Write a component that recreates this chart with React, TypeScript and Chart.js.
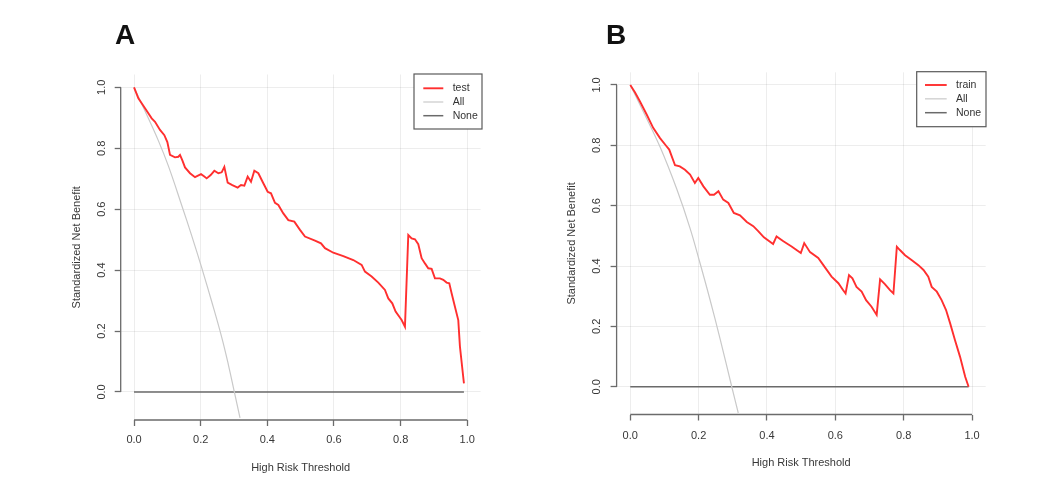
import React, { useEffect, useRef } from "react";
import { Chart, registerables } from "chart.js";

Chart.register(...registerables);

// ---------- data ----------
const tickValues = [0, 0.2, 0.4, 0.6, 0.8, 1.0];

const thresholdsA = [0, 0.013, 0.033, 0.053, 0.063, 0.078, 0.091, 0.1, 0.108, 0.123, 0.133, 0.138, 0.145, 0.153, 0.168, 0.183, 0.201, 0.21, 0.218, 0.23, 0.241, 0.253, 0.263, 0.271, 0.281, 0.295, 0.311, 0.321, 0.331, 0.341, 0.351, 0.361, 0.373, 0.388, 0.401, 0.411, 0.423, 0.433, 0.448, 0.463, 0.481, 0.498, 0.513, 0.543, 0.561, 0.573, 0.598, 0.628, 0.658, 0.683, 0.693, 0.713, 0.733, 0.753, 0.763, 0.775, 0.785, 0.803, 0.813, 0.823, 0.833, 0.843, 0.853, 0.863, 0.873, 0.883, 0.893, 0.903, 0.918, 0.928, 0.938, 0.946, 0.953, 0.963, 0.973, 0.978, 0.99];
const netBenefitTestA = [1.0, 0.964, 0.931, 0.898, 0.887, 0.86, 0.843, 0.82, 0.778, 0.77, 0.772, 0.778, 0.76, 0.737, 0.718, 0.705, 0.715, 0.708, 0.701, 0.712, 0.726, 0.718, 0.721, 0.739, 0.687, 0.679, 0.671, 0.679, 0.677, 0.707, 0.69, 0.726, 0.718, 0.685, 0.657, 0.652, 0.621, 0.614, 0.586, 0.564, 0.559, 0.532, 0.51, 0.497, 0.488, 0.472, 0.457, 0.446, 0.433, 0.417, 0.395, 0.379, 0.359, 0.335, 0.307, 0.291, 0.264, 0.236, 0.214, 0.515, 0.504, 0.501, 0.485, 0.439, 0.422, 0.406, 0.404, 0.373, 0.373, 0.368, 0.359, 0.357, 0.324, 0.28, 0.236, 0.149, 0.028];
const allThresholdsA = [0, 0.033, 0.073, 0.103, 0.143, 0.173, 0.203, 0.233, 0.263, 0.283, 0.301, 0.318];
const allNetBenefitA = [1, 0.922, 0.825, 0.742, 0.613, 0.513, 0.408, 0.297, 0.18, 0.09, 0.0, -0.085];

const thresholdsB = [0, 0.014, 0.028, 0.048, 0.067, 0.087, 0.106, 0.114, 0.131, 0.145, 0.16, 0.175, 0.189, 0.199, 0.214, 0.233, 0.245, 0.258, 0.272, 0.287, 0.303, 0.321, 0.341, 0.36, 0.375, 0.391, 0.418, 0.428, 0.448, 0.472, 0.499, 0.509, 0.526, 0.55, 0.565, 0.589, 0.609, 0.623, 0.63, 0.64, 0.65, 0.662, 0.677, 0.69, 0.706, 0.721, 0.731, 0.745, 0.76, 0.77, 0.78, 0.789, 0.804, 0.823, 0.843, 0.858, 0.872, 0.882, 0.897, 0.911, 0.924, 0.936, 0.95, 0.965, 0.98, 0.99];
const netBenefitTrainB = [1.0, 0.975, 0.946, 0.902, 0.858, 0.824, 0.797, 0.786, 0.734, 0.73, 0.719, 0.703, 0.675, 0.692, 0.664, 0.636, 0.636, 0.648, 0.62, 0.609, 0.576, 0.568, 0.546, 0.532, 0.515, 0.495, 0.473, 0.498, 0.482, 0.465, 0.443, 0.476, 0.446, 0.427, 0.403, 0.365, 0.343, 0.32, 0.309, 0.37, 0.359, 0.331, 0.315, 0.287, 0.265, 0.238, 0.356, 0.34, 0.32, 0.309, 0.464, 0.453, 0.436, 0.42, 0.403, 0.387, 0.365, 0.331, 0.315, 0.287, 0.254, 0.21, 0.155, 0.099, 0.033, 0.0];
const allThresholdsB = [0, 0.038, 0.087, 0.136, 0.175, 0.204, 0.233, 0.263, 0.297, 0.316];
const allNetBenefitB = [1, 0.912, 0.795, 0.655, 0.525, 0.41, 0.29, 0.158, 0.0, -0.087];

const noneThresholds = [0, 0.99];
const noneNetBenefit = [0, 0];

const labelsA = ["test", "All", "None"];
const labelsB = ["train", "All", "None"];
const panelLetters = ["A", "B"];
const xTitle = "High Risk Threshold";
const yTitle = "Standardized Net Benefit";

// ---------- styling ----------
const FONT = '"Liberation Sans", Arial, Helvetica, sans-serif';
const AXIS_COLOR = "#6b6b6b";
const TEXT_COLOR = "#383838";

const toPoints = (xs: number[], ys: number[]) => xs.map((x, i) => ({ x, y: ys[i] }));

const axisPlugin = {
  id: "rAxes",
  afterDraw(chart: any) {
    const { ctx, chartArea } = chart;
    const xs = chart.scales.x;
    const ys = chart.scales.y;
    ctx.save();
    ctx.strokeStyle = AXIS_COLOR;
    ctx.lineWidth = 1.3;
    ctx.beginPath();
    ctx.moveTo(xs.getPixelForValue(tickValues[0]), chartArea.bottom);
    ctx.lineTo(xs.getPixelForValue(tickValues[tickValues.length - 1]), chartArea.bottom);
    ctx.moveTo(chartArea.left, ys.getPixelForValue(tickValues[0]));
    ctx.lineTo(chartArea.left, ys.getPixelForValue(tickValues[tickValues.length - 1]));
    ctx.stroke();
    ctx.restore();
  },
};

const legendPlugin = {
  id: "rLegend",
  afterDraw(chart: any, _args: any, o: any) {
    const { ctx, chartArea } = chart;
    const x0 = chartArea.right - o.width + o.dx;
    const y0 = chartArea.top + o.dy;
    ctx.save();
    ctx.fillStyle = "#fff";
    ctx.fillRect(x0, y0, o.width, o.height);
    ctx.strokeStyle = "#5a5a5a";
    ctx.lineWidth = 1.2;
    ctx.strokeRect(x0, y0, o.width, o.height);
    ctx.font = `${o.fontSize}px ${FONT}`;
    ctx.textBaseline = "middle";
    ctx.textAlign = "left";
    chart.data.datasets.forEach((ds: any, i: number) => {
      const y = y0 + o.row0 + i * o.rowStep;
      ctx.strokeStyle = ds.borderColor;
      ctx.lineWidth = ds.borderWidth;
      ctx.beginPath();
      ctx.moveTo(x0 + o.line0, y);
      ctx.lineTo(x0 + o.line1, y);
      ctx.stroke();
      ctx.fillStyle = "#333";
      ctx.fillText(ds.label, x0 + o.textX, y);
    });
    ctx.restore();
  },
};

interface PanelProps {
  left: number;
  width: number;
  height: number;
  labels: string[];
  mainX: number[];
  mainY: number[];
  allX: number[];
  allY: number[];
  yScaleWidth: number;
  xScaleHeight: number;
  padTop: number;
  padRight: number;
  yTitlePad: number;
  xTitlePad: number;
  xTickPad: number;
  yTickPad: number;
  legend: any;
}

function Panel(p: PanelProps) {
  const ref = useRef<HTMLCanvasElement | null>(null);
  useEffect(() => {
    if (!ref.current) return;
    const setTicks = (s: any) => {
      s.ticks = tickValues.map((v) => ({ value: v }));
    };
    const chart = new Chart(ref.current, {
      type: "line",
      data: {
        datasets: [
          {
            label: p.labels[0],
            data: toPoints(p.mainX, p.mainY),
            borderColor: "#ff2f2f",
            borderWidth: 1.9,
            pointRadius: 0,
            tension: 0,
          },
          {
            label: p.labels[1],
            data: toPoints(p.allX, p.allY),
            borderColor: "#c9c9c9",
            borderWidth: 1.2,
            pointRadius: 0,
            tension: 0.4,
          },
          {
            label: p.labels[2],
            data: toPoints(noneThresholds, noneNetBenefit),
            borderColor: "#6a6a6a",
            borderWidth: 1.5,
            pointRadius: 0,
            tension: 0,
          },
        ],
      },
      options: {
        animation: false,
        responsive: false,
        devicePixelRatio: 1,
        layout: { padding: { left: 0, top: p.padTop, right: p.padRight, bottom: 0 } },
        plugins: {
          legend: { display: false },
          tooltip: { enabled: false },
          rLegend: p.legend,
        } as any,
        scales: {
          x: {
            type: "linear",
            min: -0.04,
            max: 1.04,
            afterBuildTicks: setTicks,
            afterFit: (s: any) => {
              s.height = p.xScaleHeight;
            },
            border: { display: false },
            grid: {
              color: "rgba(0,0,0,0.07)",
              lineWidth: 1,
              tickColor: AXIS_COLOR,
              tickWidth: 1.3,
              tickLength: 6,
              drawTicks: true,
            },
            ticks: {
              autoSkip: false,
              maxRotation: 0,
              minRotation: 0,
              padding: p.xTickPad,
              color: TEXT_COLOR,
              font: { family: FONT, size: 11 },
              callback: (v: any) => Number(v).toFixed(1),
            },
            title: {
              display: true,
              text: xTitle,
              color: TEXT_COLOR,
              font: { family: FONT, size: 11 },
              padding: { top: 0, bottom: p.xTitlePad },
            },
          },
          y: {
            type: "linear",
            min: -0.092,
            max: 1.042,
            afterBuildTicks: setTicks,
            afterFit: (s: any) => {
              s.width = p.yScaleWidth;
            },
            border: { display: false },
            grid: {
              color: "rgba(0,0,0,0.07)",
              lineWidth: 1,
              tickColor: AXIS_COLOR,
              tickWidth: 1.3,
              tickLength: 6,
              drawTicks: true,
            },
            ticks: {
              autoSkip: false,
              minRotation: 90,
              maxRotation: 90,
              crossAlign: "center",
              padding: p.yTickPad,
              color: TEXT_COLOR,
              font: { family: FONT, size: 11 },
              callback: (v: any) => Number(v).toFixed(1),
            },
            title: {
              display: true,
              text: yTitle,
              color: TEXT_COLOR,
              font: { family: FONT, size: 11 },
              padding: { top: p.yTitlePad, bottom: 0 },
            },
          },
        },
      } as any,
      plugins: [axisPlugin, legendPlugin],
    });
    return () => chart.destroy();
  }, []);
  return (
    <canvas
      ref={ref}
      width={p.width}
      height={p.height}
      style={{ position: "absolute", left: p.left, top: 0, width: p.width, height: p.height }}
    />
  );
}

const letterStyle = (left: number): React.CSSProperties => ({
  position: "absolute",
  left,
  top: 21,
  fontFamily: FONT,
  fontWeight: 700,
  fontSize: 28,
  lineHeight: 1,
  color: "#111",
});

export default function App() {
  return (
    <div style={{ position: "absolute", left: 0, top: 0, width: 1062, height: 483, background: "#fff", overflow: "hidden" }}>
      <Panel
        left={0}
        width={531}
        height={483}
        labels={labelsA}
        mainX={thresholdsA}
        mainY={netBenefitTestA}
        allX={allThresholdsA}
        allY={allNetBenefitA}
        yScaleWidth={120.7}
        xScaleHeight={63}
        padTop={74.5}
        padRight={50.4}
        yTitlePad={70.6}
        xTitlePad={8.4}
        xTickPad={7.4}
        yTickPad={4.75}
        legend={{ width: 68, height: 55, dx: 1.4, dy: -0.5, line0: 9.3, line1: 29.3, textX: 38.7, row0: 14.3, rowStep: 13.7, fontSize: 10.5 }}
      />
      <Panel
        left={531}
        width={531}
        height={483}
        labels={labelsB}
        mainX={thresholdsB}
        mainY={netBenefitTrainB}
        allX={allThresholdsB}
        allY={allNetBenefitB}
        yScaleWidth={85.6}
        xScaleHeight={68.5}
        padTop={72.3}
        padRight={76.3}
        yTitlePad={34.1}
        xTitlePad={13.1}
        xTickPad={8.9}
        yTickPad={6.25}
        legend={{ width: 69.3, height: 55, dx: 0.3, dy: -0.6, line0: 8.3, line1: 30, textX: 39.3, row0: 13.3, rowStep: 13.85, fontSize: 10.5 }}
      />
      <div style={letterStyle(115)}>{panelLetters[0]}</div>
      <div style={letterStyle(606)}>{panelLetters[1]}</div>
    </div>
  );
}
